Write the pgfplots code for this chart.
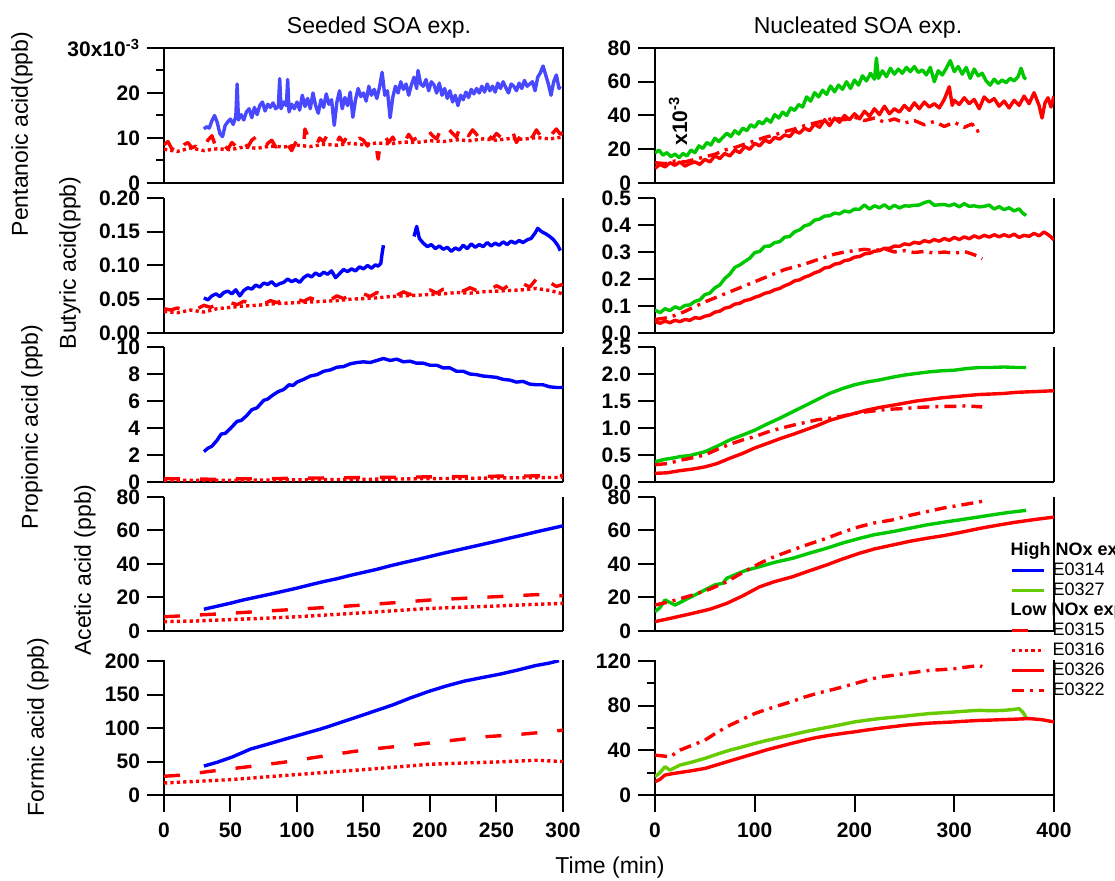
\documentclass[border=0pt]{standalone}
\usepackage{fontspec}
\setmainfont{Liberation Sans}
\usepackage{pgfplots}
\pgfplotsset{compat=1.18}

\definecolor{cblue}{HTML}{0000FF}
\definecolor{cbluel}{HTML}{4848FF}
\definecolor{cgreen}{HTML}{00C800}
\definecolor{cygreen}{HTML}{66CC00}
\definecolor{cred}{HTML}{FF0000}

\newcommand\tickfont{\fontsize{10.5}{12}\selectfont\bfseries}
\newcommand\labfont{\fontsize{11.5}{13}\selectfont}
\newcommand\legfont{\fontsize{9}{10}\selectfont}

\pgfplotsset{
  panel/.style={scale only axis, width=199.5pt, height=67.5pt, ymin=0,
    axis line style={line width=1pt},
    tick style={line width=1pt, black},
    major tick length=8.5pt, minor tick length=4pt, tick align=outside,
    xtick pos=left, ytick pos=left, xtick=\empty,
    yticklabel style={font=\tickfont},
    xticklabel style={font=\tickfont, yshift=-2pt},
    every axis plot/.append style={line width=1.7pt, line join=round}},
  mid/.style={axis x line*=bottom, axis y line*=box,
    every non boxed x axis/.style={x axis line style={-}},
    every non boxed y axis/.style={y axis line style={-}}},
  leftcol/.style={xmin=0, xmax=300},
  rightcol/.style={xmin=0, xmax=400},
  e0315/.style={cred, dash pattern=on 8pt off 10pt},
  e0316/.style={cred, dash pattern=on 1.6pt off 1.6pt},
  e0326/.style={cred},
  e0322/.style={cred, dash pattern=on 6pt off 3pt on 1.5pt off 3pt},
}

\begin{document}
\begin{tikzpicture}
\useasboundingbox (0,0) rectangle (557.5pt,-440.5pt);

% column titles, shared labels
\node[font=\labfont] at (189.5pt,-14pt) {Seeded SOA exp.};
\node[font=\labfont] at (429pt,-14pt) {Nucleated SOA exp.};
\node[font=\labfont] at (305pt,-434pt) {Time (min)};
\node[font=\labfont, rotate=90] at (11pt,-67pt) {Pentanoic acid(ppb)};
\node[font=\labfont, rotate=90] at (35pt,-131.5pt) {Butyric acid(ppb)};
\node[font=\labfont, rotate=90] at (16pt,-213.5pt) {Propionic acid (ppb)};
\node[font=\labfont, rotate=90] at (42.5pt,-285pt) {Acetic acid (ppb)};
\node[font=\labfont, rotate=90] at (19pt,-363.5pt) {Formic acid (ppb)};

% ---------- row 1: pentanoic ----------
\begin{axis}[panel, leftcol, at={(82pt,-91.5pt)}, anchor=south west,
  ymax=30, ytick={0,10,20,30}, minor ytick={5,15,25},
  yticklabels={0,10,20,{30x10\textsuperscript{-3}}}]
\addplot[e0316] coordinates {(0,7.5)(10,7.0)(20,7.8)(30,7.2)(40,7.6)(50,7.4)(60,8.0)(70,7.7)(80,8.2)(90,8.0)(100,8.4)(110,8.1)(120,8.6)(130,8.4)(140,8.8)(150,8.5)(160,8.9)(170,8.7)(180,9.1)(190,9.0)(200,9.4)(210,9.2)(220,9.6)(230,9.4)(240,9.8)(250,9.5)(260,9.9)(270,9.7)(280,10.1)(290,9.8)(300,10.2)};
\addplot[e0315] coordinates {(0,8.5)(3,9.2)(6,7.5)(9,8.8)(12,7.2)(15,8.5)(18,9.0)(21,7.8)(24,8.2)(27,6.8)(30,8.0)(33,9.5)(36,10.5)(39,8.0)(42,7.0)(45,8.5)(48,7.5)(51,9.0)(54,8.2)(57,7.0)(60,9.0)(63,8.0)(66,9.5)(69,10.2)(72,8.5)(75,7.5)(78,8.8)(81,9.5)(84,8.0)(87,9.2)(90,10.0)(93,8.5)(96,7.2)(99,9.0)(102,10.5)(105,8.8)(106,12.0)(108,10.5)(111,9.0)(114,8.0)(117,10.0)(120,9.2)(123,10.8)(126,9.5)(129,8.5)(132,10.2)(135,9.0)(138,10.5)(141,9.8)(144,8.8)(147,10.0)(150,9.5)(153,8.2)(156,10.0)(159,9.0)(161,5.3)(163,9.5)(166,10.5)(169,9.0)(172,10.2)(175,8.5)(178,9.8)(181,9.2)(184,10.8)(187,9.5)(190,10.0)(193,11.0)(196,10.2)(199,11.5)(202,10.5)(205,9.8)(208,11.8)(211,10.5)(214,12.0)(217,11.0)(220,10.2)(223,13.0)(226,11.5)(229,10.5)(232,11.8)(235,10.8)(238,9.5)(241,11.2)(244,10.5)(247,9.8)(250,11.0)(253,10.2)(256,9.5)(259,10.8)(262,11.5)(265,9.0)(268,10.5)(271,12.2)(274,11.0)(277,10.2)(280,11.8)(283,10.5)(286,11.2)(289,9.8)(292,11.0)(295,12.0)(298,10.8)(300,11.2)};
\addplot[cbluel] coordinates {(30,12.0)(32,12.5)(34,12.2)(36,13.8)(38,15.0)(40,13.5)(42,11.0)(44,10.3)(46,12.8)(48,13.6)(50,14.2)(52,13.0)(54,14.8)(55,22.0)(56,14.0)(58,15.2)(60,14.0)(62,15.8)(64,16.5)(66,14.5)(68,16.8)(70,15.2)(72,17.2)(74,18.0)(76,16.0)(78,17.5)(80,16.8)(82,17.8)(84,16.5)(86,17.0)(87,23.2)(88,16.5)(90,18.0)(92,17.2)(93,23.0)(94,15.8)(96,17.5)(98,16.5)(100,18.0)(102,16.2)(104,19.5)(106,17.0)(108,18.8)(110,16.5)(112,20.0)(114,17.2)(116,15.5)(118,18.5)(120,16.8)(122,19.8)(124,17.5)(126,18.5)(128,12.8)(130,18.0)(132,20.5)(134,16.5)(136,19.0)(138,17.2)(140,20.2)(142,14.6)(144,18.5)(146,21.0)(148,19.2)(150,20.0)(152,18.2)(154,21.5)(156,19.5)(158,20.8)(160,18.8)(162,21.2)(164,24.6)(166,19.5)(168,20.5)(170,14.5)(172,19.0)(174,21.5)(176,20.0)(178,22.5)(180,20.8)(182,22.0)(184,19.5)(186,21.8)(188,23.5)(190,21.0)(191,25.0)(193,22.0)(195,21.5)(197,23.0)(199,20.5)(201,22.5)(203,21.8)(205,20.0)(207,22.2)(209,19.5)(211,21.0)(213,18.8)(215,20.5)(217,18.0)(219,19.5)(221,17.2)(223,19.5)(225,18.5)(227,20.2)(229,19.0)(231,20.8)(233,19.8)(235,21.0)(237,20.0)(239,21.5)(241,20.2)(243,22.0)(245,20.5)(247,21.5)(249,20.2)(251,22.2)(253,21.0)(255,22.5)(257,21.2)(259,20.0)(261,22.0)(263,21.5)(265,20.5)(267,22.2)(269,21.0)(271,22.8)(273,21.5)(275,22.0)(277,22.5)(279,20.5)(281,23.5)(283,24.5)(285,26.0)(287,24.0)(289,22.0)(291,19.5)(293,22.5)(295,24.0)(297,21.0)(298,21.5)};
\end{axis}

\begin{axis}[panel, rightcol, at={(327.5pt,-91.5pt)}, anchor=south west,
  ymax=80, ytick={0,20,40,60,80}, yticklabels={0,20,40,60,80}]
\addplot[cgreen] coordinates {(0,17.8)(4,19.5)(8,16.5)(12,18.0)(16,15.5)(20,17.2)(24,15.0)(28,17.5)(32,16.0)(36,19.5)(40,18.0)(44,22.0)(48,20.5)(52,24.0)(56,22.5)(60,26.5)(64,24.5)(68,27.0)(72,29.5)(76,27.5)(80,31.0)(84,29.0)(88,32.5)(92,31.0)(96,34.5)(100,33.0)(104,36.5)(108,35.0)(112,38.0)(116,36.0)(120,40.5)(124,38.5)(128,42.0)(132,40.0)(136,44.5)(140,43.0)(144,46.5)(148,45.0)(152,51.0)(156,48.5)(160,53.5)(164,51.0)(168,55.0)(172,52.5)(176,57.5)(180,54.0)(184,58.0)(188,55.5)(192,60.0)(196,56.0)(200,61.0)(204,58.0)(208,63.5)(212,60.5)(216,65.0)(220,61.5)(222,74.0)(224,62.0)(228,66.5)(232,63.0)(236,68.0)(240,64.5)(244,67.5)(248,65.0)(252,68.5)(256,66.0)(260,69.0)(264,65.5)(268,67.0)(272,64.0)(276,68.5)(280,60.0)(284,66.5)(288,64.0)(292,68.0)(296,72.5)(300,66.0)(304,69.0)(308,64.5)(312,68.5)(316,62.0)(320,67.5)(324,63.5)(328,65.0)(332,60.5)(336,58.0)(340,61.5)(344,59.0)(348,61.0)(352,59.5)(356,62.0)(360,60.5)(364,63.0)(367,68.0)(370,62.5)(372,61.5)};
\addplot[e0322] coordinates {(0,12)(10,11.5)(20,13)(30,12.5)(40,14)(50,15.5)(60,17)(70,19.5)(80,21)(90,23)(100,25)(110,27)(120,28.5)(130,30.5)(140,32)(150,34)(160,35.5)(170,37)(180,38.5)(190,37.5)(200,39)(210,37)(220,38.5)(230,36)(240,38)(250,35.5)(260,37)(270,34.5)(280,36.5)(290,33.5)(300,36)(310,33)(318,35)(322,30.5)(327,31.5)};
\addplot[e0326] coordinates {(0,8.7)(5,11.0)(10,9.5)(15,12.0)(20,10.5)(25,12.5)(30,10.0)(35,11.5)(40,12.5)(45,11.0)(50,14.0)(55,12.5)(60,16.0)(65,14.5)(70,17.5)(75,16.0)(80,19.5)(85,18.0)(90,21.5)(95,20.0)(100,23.5)(105,22.0)(110,25.5)(115,24.0)(120,27.0)(125,26.0)(130,28.5)(135,27.5)(140,31.0)(145,29.5)(150,32.5)(155,31.0)(160,35.0)(165,33.0)(170,37.5)(175,34.0)(180,38.5)(185,36.0)(190,40.0)(195,37.5)(200,41.0)(205,38.0)(210,42.5)(215,39.5)(220,44.0)(225,40.5)(230,45.5)(235,41.0)(240,44.0)(245,42.0)(250,46.0)(255,43.0)(260,47.5)(265,44.0)(270,48.0)(275,45.0)(280,47.0)(285,44.5)(290,49.5)(295,57.0)(298,46.0)(300,49.0)(305,46.5)(310,50.5)(315,47.0)(320,49.5)(325,44.0)(330,51.0)(335,48.0)(340,50.0)(345,45.5)(350,48.5)(355,44.5)(360,49.0)(365,46.0)(370,51.5)(375,47.0)(380,53.5)(385,46.0)(388,38.5)(391,47.5)(394,50.5)(397,45.0)(400,51.5)};
\node[font=\tickfont, rotate=90] at (rel axis cs:0.058,0.46) {x10\textsuperscript{-3}};
\end{axis}

% ---------- row 2: butyric ----------
\begin{axis}[panel, mid, leftcol, at={(82pt,-166.5pt)}, anchor=south west,
  ymax=0.2, ytick={0,0.05,0.1,0.15,0.2}, yticklabels={0.00,0.05,0.10,0.15,0.20}]
\addplot[e0316] coordinates {(0,0.032)(10,0.030)(20,0.034)(30,0.031)(40,0.036)(50,0.038)(60,0.040)(70,0.041)(80,0.043)(90,0.044)(100,0.045)(110,0.046)(120,0.047)(130,0.048)(140,0.050)(150,0.051)(160,0.052)(170,0.054)(180,0.055)(190,0.056)(200,0.057)(210,0.058)(220,0.060)(230,0.059)(240,0.061)(250,0.062)(260,0.063)(270,0.064)(280,0.066)(290,0.063)(300,0.058)};
\addplot[e0315] coordinates {(0,0.036)(5,0.034)(10,0.037)(15,0.035)(20,0.039)(25,0.036)(30,0.041)(35,0.038)(40,0.043)(45,0.040)(50,0.045)(55,0.042)(60,0.047)(65,0.044)(70,0.046)(75,0.043)(80,0.048)(85,0.045)(90,0.049)(95,0.046)(100,0.050)(105,0.047)(110,0.052)(115,0.048)(120,0.053)(125,0.049)(130,0.055)(135,0.051)(140,0.056)(145,0.052)(150,0.058)(155,0.054)(160,0.060)(165,0.055)(170,0.058)(175,0.056)(180,0.061)(185,0.057)(190,0.062)(195,0.058)(200,0.064)(205,0.059)(210,0.065)(215,0.061)(220,0.066)(225,0.062)(230,0.067)(235,0.063)(240,0.069)(245,0.064)(250,0.070)(255,0.065)(260,0.072)(265,0.066)(270,0.073)(275,0.068)(280,0.080)(285,0.070)(290,0.075)(295,0.069)(300,0.072)};
\addplot[cblue] coordinates {(30,0.052)(33,0.049)(36,0.055)(39,0.058)(42,0.054)(45,0.060)(48,0.062)(51,0.058)(54,0.064)(57,0.055)(60,0.063)(63,0.067)(66,0.065)(69,0.071)(72,0.068)(75,0.074)(78,0.072)(81,0.076)(84,0.070)(87,0.073)(90,0.075)(93,0.080)(96,0.076)(99,0.079)(102,0.075)(105,0.082)(108,0.086)(111,0.083)(114,0.089)(117,0.085)(120,0.090)(123,0.087)(126,0.092)(129,0.082)(132,0.088)(135,0.094)(138,0.091)(141,0.095)(144,0.092)(147,0.098)(150,0.095)(153,0.100)(156,0.096)(159,0.101)(161,0.099)(163,0.103)(164,0.118)(165,0.130)};
\addplot[cblue] coordinates {(188,0.143)(190,0.158)(192,0.140)(195,0.133)(198,0.128)(201,0.131)(204,0.125)(207,0.129)(210,0.124)(213,0.127)(216,0.121)(219,0.126)(222,0.123)(225,0.130)(228,0.125)(231,0.132)(234,0.127)(237,0.131)(240,0.128)(243,0.134)(246,0.129)(249,0.133)(252,0.130)(255,0.135)(258,0.131)(261,0.136)(264,0.133)(267,0.137)(270,0.134)(273,0.138)(276,0.140)(279,0.148)(281,0.155)(284,0.150)(287,0.147)(290,0.143)(293,0.138)(296,0.130)(298,0.122)};
\end{axis}

\begin{axis}[panel, mid, rightcol, at={(327.5pt,-166.5pt)}, anchor=south west,
  ymax=0.5, ytick={0,0.1,0.2,0.3,0.4,0.5}, yticklabels={0.0,0.1,0.2,0.3,0.4,0.5}]
\addplot[cgreen] coordinates {(0,0.085)(5,0.075)(10,0.090)(15,0.083)(20,0.097)(25,0.090)(30,0.102)(35,0.104)(40,0.117)(45,0.123)(50,0.142)(55,0.148)(60,0.167)(65,0.178)(70,0.202)(75,0.218)(80,0.243)(85,0.252)(90,0.265)(95,0.277)(100,0.298)(105,0.302)(110,0.321)(115,0.322)(120,0.335)(125,0.338)(130,0.355)(135,0.357)(140,0.375)(145,0.382)(150,0.397)(155,0.402)(160,0.418)(165,0.422)(170,0.433)(175,0.434)(180,0.444)(185,0.441)(190,0.452)(195,0.448)(200,0.459)(205,0.458)(210,0.474)(215,0.459)(220,0.471)(225,0.464)(230,0.475)(235,0.461)(240,0.473)(245,0.463)(250,0.471)(255,0.470)(260,0.473)(265,0.474)(270,0.483)(275,0.488)(280,0.473)(285,0.475)(290,0.476)(295,0.471)(300,0.478)(305,0.467)(310,0.479)(315,0.469)(320,0.471)(325,0.467)(330,0.469)(335,0.474)(340,0.459)(345,0.468)(350,0.457)(355,0.464)(360,0.452)(365,0.460)(368,0.446)(372,0.435)};
\addplot[e0322] coordinates {(0,0.050)(10,0.055)(20,0.065)(30,0.080)(40,0.098)(50,0.115)(60,0.130)(70,0.145)(80,0.160)(90,0.175)(100,0.190)(110,0.205)(120,0.220)(130,0.235)(140,0.245)(150,0.255)(160,0.268)(170,0.280)(180,0.292)(190,0.300)(200,0.305)(210,0.310)(220,0.305)(230,0.312)(240,0.300)(250,0.305)(260,0.298)(270,0.302)(280,0.296)(290,0.300)(300,0.295)(310,0.302)(320,0.290)(328,0.275)};
\addplot[e0326] coordinates {(0,0.042)(5,0.036)(10,0.044)(15,0.038)(20,0.047)(25,0.042)(30,0.050)(35,0.047)(40,0.057)(45,0.054)(50,0.062)(55,0.066)(60,0.077)(65,0.081)(70,0.092)(75,0.096)(80,0.107)(85,0.110)(90,0.120)(95,0.124)(100,0.132)(105,0.138)(110,0.147)(115,0.151)(120,0.160)(125,0.165)(130,0.175)(135,0.182)(140,0.193)(145,0.197)(150,0.207)(155,0.213)(160,0.223)(165,0.229)(170,0.241)(175,0.244)(180,0.255)(185,0.258)(190,0.268)(195,0.271)(200,0.281)(205,0.283)(210,0.293)(215,0.295)(220,0.303)(225,0.305)(230,0.314)(235,0.313)(240,0.322)(245,0.321)(250,0.330)(255,0.327)(260,0.336)(265,0.332)(270,0.342)(275,0.337)(280,0.346)(285,0.340)(290,0.350)(295,0.343)(300,0.354)(305,0.346)(310,0.356)(315,0.349)(320,0.360)(325,0.352)(330,0.362)(335,0.355)(340,0.364)(345,0.356)(350,0.364)(355,0.357)(360,0.366)(365,0.354)(370,0.362)(375,0.358)(380,0.369)(385,0.360)(390,0.374)(395,0.362)(400,0.345)};
\end{axis}

% ---------- row 3: propionic ----------
\begin{axis}[panel, mid, leftcol, at={(82pt,-241pt)}, anchor=south west,
  ymax=10, ytick={0,2,4,6,8,10}, yticklabels={0,2,4,6,8,10}]
\addplot[e0316] coordinates {(0,0.12)(25,0.12)(50,0.13)(75,0.14)(100,0.16)(125,0.18)(150,0.20)(175,0.22)(200,0.25)(225,0.27)(250,0.30)(275,0.32)(300,0.34)};
\addplot[e0315] coordinates {(0,0.25)(20,0.22)(40,0.20)(60,0.24)(80,0.25)(100,0.28)(120,0.30)(140,0.32)(160,0.34)(180,0.36)(200,0.38)(220,0.40)(240,0.42)(260,0.44)(280,0.45)(300,0.48)};
\addplot[cblue] coordinates {(30,2.25)(33,2.5)(36,2.65)(40,3.1)(43,3.55)(46,3.6)(50,3.97)(55,4.5)(58,4.55)(62,4.9)(66,5.35)(70,5.5)(75,6.05)(78,6.15)(82,6.45)(86,6.7)(90,6.85)(94,7.2)(97,7.15)(100,7.4)(105,7.6)(110,7.85)(115,7.95)(120,8.2)(125,8.3)(130,8.5)(135,8.55)(140,8.75)(145,8.85)(150,8.9)(155,8.85)(160,9.0)(165,9.15)(170,9.0)(175,9.1)(180,8.9)(185,8.95)(190,8.8)(195,8.8)(200,8.65)(205,8.65)(210,8.45)(215,8.45)(220,8.2)(225,8.2)(230,8.0)(235,7.95)(240,7.85)(245,7.8)(250,7.75)(255,7.6)(260,7.55)(265,7.4)(270,7.45)(275,7.25)(280,7.2)(285,7.2)(290,7.05)(295,7.0)(300,7.0)};
\end{axis}

\begin{axis}[panel, mid, rightcol, at={(327.5pt,-241pt)}, anchor=south west,
  ymax=2.5, ytick={0,0.5,1,1.5,2,2.5}, yticklabels={0.0,0.5,1.0,1.5,2.0,2.5}]
\addplot[cgreen] coordinates {(0,0.376)(10,0.42)(20,0.45)(25,0.47)(35,0.49)(50,0.56)(62,0.66)(75,0.78)(88,0.87)(100,0.96)(112,1.07)(125,1.18)(138,1.30)(150,1.41)(162,1.52)(175,1.64)(188,1.73)(200,1.80)(212,1.85)(225,1.89)(238,1.94)(250,1.98)(262,2.01)(275,2.04)(288,2.06)(300,2.07)(312,2.10)(325,2.12)(338,2.12)(350,2.13)(362,2.12)(372,2.12)};
\addplot[e0322] coordinates {(0,0.32)(12,0.34)(25,0.40)(38,0.45)(50,0.50)(62,0.60)(75,0.70)(88,0.78)(100,0.84)(112,0.92)(125,0.99)(138,1.05)(150,1.10)(162,1.15)(175,1.18)(188,1.22)(200,1.27)(212,1.30)(225,1.33)(238,1.35)(250,1.36)(262,1.38)(275,1.39)(288,1.40)(300,1.40)(312,1.41)(328,1.39)};
\addplot[e0326] coordinates {(0,0.16)(12,0.17)(25,0.21)(38,0.24)(50,0.28)(62,0.34)(75,0.44)(88,0.53)(100,0.63)(112,0.71)(125,0.80)(138,0.88)(150,0.96)(162,1.04)(175,1.14)(188,1.21)(200,1.27)(212,1.33)(225,1.38)(238,1.42)(250,1.46)(262,1.50)(275,1.53)(288,1.56)(300,1.58)(312,1.60)(325,1.62)(338,1.63)(350,1.64)(362,1.66)(375,1.67)(388,1.68)(400,1.69)};
\end{axis}

% ---------- row 4: acetic ----------
\begin{axis}[panel, mid, leftcol, at={(82pt,-315.5pt)}, anchor=south west, height=67pt,
  ymax=80, ytick={0,20,40,60,80}, yticklabels={0,20,40,60,80}]
\addplot[e0316] coordinates {(0,5.6)(25,6.0)(50,6.8)(75,7.6)(100,8.5)(125,9.7)(150,10.9)(175,12.2)(200,13.5)(225,14.2)(250,14.9)(275,15.8)(300,16.5)};
\addplot[e0315] coordinates {(0,8.5)(25,9.5)(50,10.6)(75,11.8)(100,13.0)(125,14.2)(150,15.5)(175,17.0)(200,18.5)(225,19.5)(250,20.5)(280,21.7)(300,21.0)};
\addplot[cblue] coordinates {(30,13.0)(40,14.8)(50,16.6)(60,18.6)(70,20.3)(80,22.0)(90,23.8)(100,25.6)(110,27.6)(120,29.5)(130,31.2)(140,33.2)(150,35.0)(160,36.8)(170,38.9)(180,40.8)(190,42.6)(200,44.5)(210,46.4)(220,48.2)(230,50.0)(240,51.8)(250,53.6)(260,55.5)(270,57.3)(280,59.2)(290,61.0)(300,62.8)};
\end{axis}

\begin{axis}[panel, mid, rightcol, at={(327.5pt,-315.5pt)}, anchor=south west, height=67pt,
  ymax=80, ytick={0,20,40,60,80}, yticklabels={0,20,40,60,80}]
\addplot[cgreen] coordinates {(0,11.5)(5,14)(10,18.5)(15,17)(20,15.5)(30,18.5)(40,21.5)(50,24.5)(60,27.5)(68,28.5)(72,31.5)(80,33.5)(90,36)(105,38.4)(120,41)(138,43.4)(155,46.5)(172,49.4)(188,52.5)(205,55.3)(220,57.5)(238,59.3)(255,61.3)(272,63.3)(290,65)(305,66.3)(326,68.2)(340,69.5)(355,70.8)(372,72)};
\addplot[e0322] coordinates {(0,15.5)(15,17.5)(38,21.5)(55,25)(72,29.4)(88,35)(105,40.4)(120,44.5)(138,48.4)(155,52)(172,55.3)(188,59)(205,62.3)(220,64.5)(238,66.3)(255,69)(272,71.2)(290,73.5)(310,75.5)(326,77.2)(328,77.5)};
\addplot[e0326] coordinates {(0,5.6)(15,7.5)(38,10.6)(55,13)(72,16.5)(88,21)(105,26.4)(120,29.5)(138,32.4)(155,36)(172,39.4)(188,43)(205,46.4)(220,49)(238,51.3)(255,53.5)(272,55.3)(290,57)(305,58.7)(326,61.3)(345,63.3)(360,64.8)(380,66.5)(400,68)};
\end{axis}

% ---------- row 5: formic ----------
\begin{axis}[panel, mid, leftcol, at={(82pt,-397.5pt)}, anchor=south west,
  ymax=202, ytick={0,50,100,150,200}, yticklabels={0,50,100,150,200},
  xtick={0,50,100,150,200,250,300}, xticklabels={0,50,100,150,200,250,300}]
\addplot[e0316] coordinates {(0,18)(25,20.5)(50,23)(75,26.8)(100,30.6)(125,34.3)(150,38)(175,42)(200,46)(225,47.8)(250,49.4)(280,52)(300,50)};
\addplot[e0315] coordinates {(0,28)(15,30)(33,35)(62,42)(90,49)(116,57)(142,65)(167,71)(192,76)(216,81.6)(240,87)(263,90)(286,94)(300,97)};
\addplot[cblue] coordinates {(30,43.3)(40,49)(51.5,57)(65,68.7)(78,76)(91.7,84)(105,91.5)(118.6,99.2)(132,108)(145.5,117)(159,126)(172.3,135)(185,145)(199,155)(212,163)(226,170.5)(240,176)(253,181)(266,187)(279,193.5)(290,197.5)(297,201)};
\end{axis}

\begin{axis}[panel, mid, rightcol, at={(327.5pt,-397.5pt)}, anchor=south west,
  ymax=121, ytick={0,40,80,120}, minor ytick={20,60,100}, yticklabels={0,40,80,120},
  xtick={0,100,200,300,400}, xticklabels={0,100,200,300,400},
  legend style={at={(0.890,1.885)}, anchor=north west, draw=none, fill=none,
    font=\legfont, inner sep=0pt, row sep=0.5pt, column sep=3pt,
    nodes={inner sep=0.5pt, text height=6.6pt, text depth=1.9pt}},
  legend cell align=left,
  legend image code/.code={\draw[#1, line width=1.6pt] (0pt,0pt) -- (16pt,0pt);}]
\addplot[cygreen, forget plot] coordinates {(0,16.4)(5,20)(10,25.3)(15,22.3)(25,26.8)(37,29.5)(50,32.8)(62,36.5)(75,40.2)(88,43.2)(100,46.2)(112,48.9)(125,51.5)(138,54.1)(150,56.6)(162,58.8)(175,61)(188,63.3)(200,65.5)(212,67)(225,68.5)(238,69.6)(250,70.6)(262,71.8)(275,73)(288,73.7)(300,74.4)(312,75.2)(325,75.9)(338,75.5)(350,75.9)(358,76.5)(365,77.4)(369,74)(372,69.4)};
\addplot[e0322, forget plot] coordinates {(0,35.7)(8,35)(15,34.2)(25,40.2)(37,44.5)(50,49.1)(62,56)(75,62.5)(88,68)(100,73)(112,76.8)(125,80.4)(138,84)(150,87.8)(162,91)(175,93.8)(188,96.8)(200,99.8)(212,102.8)(225,105.7)(238,107.2)(250,108.7)(262,110.2)(275,111.7)(288,112.4)(300,113.2)(312,114.6)(325,116.1)(328,115)};
\addplot[e0326, forget plot] coordinates {(0,11.9)(5,14)(10,17.9)(20,19.5)(35,21.5)(50,23.8)(62,27)(75,30.5)(88,34)(100,37.2)(112,40.5)(125,43.5)(138,46.5)(150,49.1)(162,51.5)(175,53.5)(188,55.2)(200,56.6)(212,58.2)(225,59.8)(238,61.2)(250,62.5)(262,63.5)(275,64.4)(288,65)(300,65.5)(312,66.2)(325,66.8)(338,67.2)(350,67.6)(362,68)(375,68.5)(388,67.5)(400,65.5)};
\addlegendimage{empty legend}
\addlegendentry{\hspace*{-21pt}\textbf{High NOx exp.}}
\addlegendimage{cblue}
\addlegendentry{E0314}
\addlegendimage{cygreen}
\addlegendentry{E0327}
\addlegendimage{empty legend}
\addlegendentry{\hspace*{-21pt}\textbf{Low NOx exp.}}
\addlegendimage{e0315}
\addlegendentry{E0315}
\addlegendimage{e0316}
\addlegendentry{E0316}
\addlegendimage{e0326}
\addlegendentry{E0326}
\addlegendimage{e0322}
\addlegendentry{E0322}
\end{axis}
\end{tikzpicture}
\end{document}
